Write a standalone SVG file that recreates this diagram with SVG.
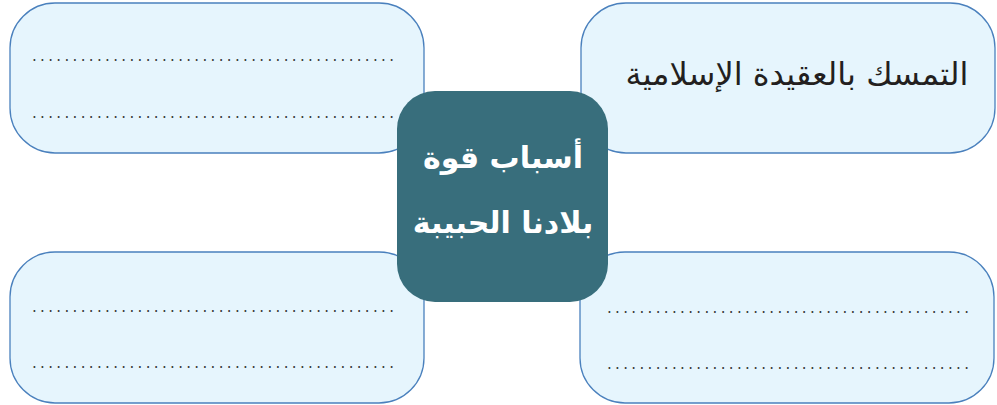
<svg xmlns="http://www.w3.org/2000/svg" width="997" height="405" viewBox="0 0 997 405">
<style>
.box{fill:#e6f5fd;stroke:#4a80bd;stroke-width:1.3}
.center{fill:#386e7c}
.dots{font-family:"DejaVu Sans",sans-serif;font-size:15px;fill:#3a3a3a}
.lbl{font-family:"DejaVu Sans",sans-serif;font-size:32px;fill:#231f20}
.ctr{font-family:"DejaVu Sans",sans-serif;font-size:30px;font-weight:bold;fill:#ffffff}
</style>
<rect width="997" height="405" fill="#ffffff"/>
<g id="connectors"></g>
<g id="node-top-left">
<rect class="box" x="10" y="3" width="414" height="150" rx="45"/>
<text class="dots" x="32" y="61" textLength="362" lengthAdjust="spacing">.............................................</text>
<text class="dots" x="32" y="118" textLength="362" lengthAdjust="spacing">.............................................</text>
</g>
<g id="node-top-right">
<rect class="box" x="581" y="3" width="414" height="150" rx="45"/>
<text class="lbl" x="797" y="85" text-anchor="middle" direction="rtl">التمسك بالعقيدة الإسلامية</text>
</g>
<g id="node-bottom-left">
<rect class="box" x="10" y="252" width="414" height="151" rx="45"/>
<text class="dots" x="32" y="312" textLength="362" lengthAdjust="spacing">.............................................</text>
<text class="dots" x="32" y="368" textLength="362" lengthAdjust="spacing">.............................................</text>
</g>
<g id="node-bottom-right">
<rect class="box" x="580" y="252" width="414" height="151" rx="45"/>
<text class="dots" x="607" y="313" textLength="362" lengthAdjust="spacing">.............................................</text>
<text class="dots" x="607" y="369" textLength="362" lengthAdjust="spacing">.............................................</text>
</g>
<g id="node-center">
<rect class="center" x="397" y="91" width="211" height="211" rx="38"/>
<text class="ctr" x="503" y="168" text-anchor="middle" direction="rtl">أسباب قوة</text>
<text class="ctr" x="503" y="233" text-anchor="middle" direction="rtl">بلادنا الحبيبة</text>
</g>
</svg>
